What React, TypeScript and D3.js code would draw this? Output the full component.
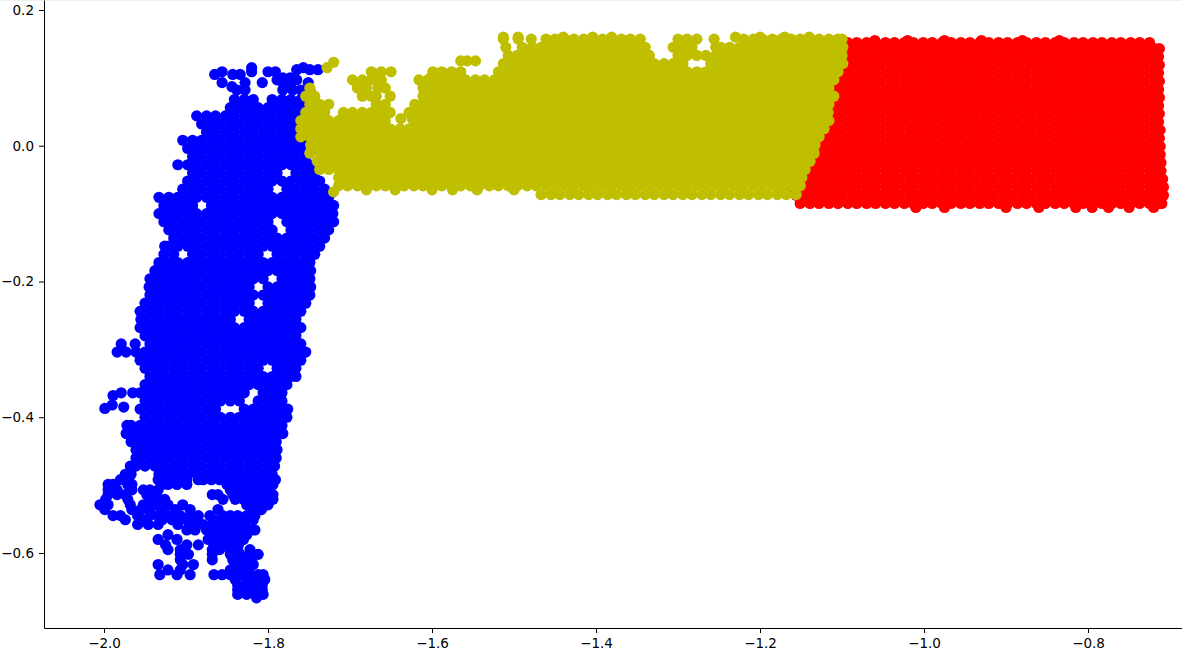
import { useEffect, useRef } from 'react';
import * as d3 from 'd3';

const width = 1182;
const height = 656;

const xTicks = [-2.0, -1.8, -1.6, -1.4, -1.2, -1.0, -0.8];
const yTicks = [0.2, 0.0, -0.2, -0.4, -0.6];

const blueColor = '#0000ff';
const yellowColor = '#bfbf00';
const redColor = '#ff0000';

// Each row is [y, x, x, x, ...]. Inside the
// solid areas single points can't be told apart, so those rows are even cover
// estimates, while the outlines, strays and gaps follow what is visible.
const blueRows: number[][] = [
  [0.115, -1.820, -1.757],
  [0.112, -1.765, -1.749, -1.739],
  [0.109, -1.856, -1.820, -1.800, -1.791],
  [0.105, -1.865, -1.843, -1.834],
  [0.100, -1.773, -1.782],
  [0.097, -1.789, -1.765],
  [0.093, -1.856, -1.828, -1.807, -1.782, -1.751],
  [0.087, -1.844, -1.773],
  [0.082, -1.749, -1.838, -1.828, -1.782, -1.770, -1.760],
  [0.068, -1.841, -1.829, -1.818, -1.795, -1.783, -1.772, -1.760],
  [0.056, -1.846, -1.835, -1.823, -1.812, -1.800, -1.789, -1.777, -1.766, -1.754],
  [0.044, -1.887, -1.875, -1.864, -1.852, -1.841, -1.829, -1.818, -1.806, -1.795, -1.783, -1.772, -1.760],
  [0.032, -1.881, -1.869, -1.858, -1.846, -1.835, -1.823, -1.812, -1.800, -1.789, -1.777, -1.766, -1.754],
  [0.020, -1.875, -1.864, -1.852, -1.841, -1.829, -1.818, -1.806, -1.795, -1.783, -1.772, -1.760],
  [0.008, -1.904, -1.892, -1.881, -1.869, -1.858, -1.846, -1.835, -1.823, -1.812, -1.800, -1.789, -1.777, -1.766, -1.754],
  [-0.004, -1.898, -1.887, -1.875, -1.864, -1.852, -1.841, -1.829, -1.818, -1.806, -1.795, -1.783, -1.772, -1.760],
  [-0.016, -1.892, -1.881, -1.869, -1.858, -1.846, -1.835, -1.823, -1.812, -1.800, -1.789, -1.777, -1.766, -1.754],
  [-0.028, -1.910, -1.898, -1.887, -1.875, -1.864, -1.852, -1.841, -1.829, -1.818, -1.806, -1.795, -1.783, -1.772, -1.760, -1.749],
  [-0.040, -1.892, -1.881, -1.869, -1.858, -1.846, -1.835, -1.823, -1.812, -1.800, -1.789, -1.766, -1.754, -1.743],
  [-0.052, -1.898, -1.887, -1.875, -1.864, -1.852, -1.841, -1.829, -1.818, -1.806, -1.795, -1.783, -1.772, -1.760, -1.749, -1.737],
  [-0.064, -1.904, -1.892, -1.881, -1.869, -1.858, -1.846, -1.835, -1.823, -1.812, -1.800, -1.777, -1.766, -1.754, -1.743, -1.731],
  [-0.076, -1.933, -1.921, -1.910, -1.898, -1.887, -1.875, -1.864, -1.852, -1.841, -1.829, -1.818, -1.806, -1.795, -1.783, -1.772, -1.760, -1.749, -1.737, -1.726],
  [-0.088, -1.927, -1.915, -1.904, -1.892, -1.869, -1.858, -1.846, -1.835, -1.823, -1.812, -1.800, -1.789, -1.777, -1.766, -1.754, -1.743, -1.731, -1.720],
  [-0.100, -1.933, -1.921, -1.910, -1.898, -1.887, -1.875, -1.864, -1.852, -1.841, -1.829, -1.818, -1.806, -1.795, -1.783, -1.772, -1.760, -1.749, -1.737, -1.726, -1.721],
  [-0.112, -1.927, -1.915, -1.904, -1.892, -1.881, -1.869, -1.858, -1.846, -1.835, -1.823, -1.812, -1.800, -1.777, -1.766, -1.754, -1.743, -1.731, -1.720],
  [-0.124, -1.921, -1.910, -1.898, -1.887, -1.875, -1.864, -1.852, -1.841, -1.829, -1.818, -1.806, -1.795, -1.772, -1.760, -1.749, -1.737, -1.726],
  [-0.136, -1.915, -1.904, -1.892, -1.881, -1.869, -1.858, -1.846, -1.835, -1.823, -1.812, -1.800, -1.789, -1.777, -1.766, -1.754, -1.743, -1.731],
  [-0.148, -1.926, -1.921, -1.910, -1.898, -1.887, -1.875, -1.864, -1.852, -1.841, -1.829, -1.818, -1.806, -1.795, -1.783, -1.772, -1.760, -1.749, -1.737],
  [-0.160, -1.927, -1.915, -1.892, -1.881, -1.869, -1.858, -1.846, -1.835, -1.823, -1.812, -1.789, -1.777, -1.766, -1.754, -1.743],
  [-0.172, -1.933, -1.921, -1.910, -1.898, -1.887, -1.875, -1.864, -1.852, -1.841, -1.829, -1.818, -1.806, -1.795, -1.783, -1.772, -1.760, -1.749],
  [-0.184, -1.938, -1.927, -1.915, -1.904, -1.892, -1.881, -1.869, -1.858, -1.846, -1.835, -1.823, -1.812, -1.800, -1.789, -1.777, -1.766, -1.754, -1.748],
  [-0.196, -1.944, -1.933, -1.921, -1.910, -1.898, -1.887, -1.875, -1.864, -1.852, -1.841, -1.829, -1.818, -1.806, -1.783, -1.772, -1.760, -1.749],
  [-0.208, -1.945, -1.938, -1.927, -1.915, -1.904, -1.892, -1.881, -1.869, -1.858, -1.846, -1.835, -1.823, -1.800, -1.789, -1.777, -1.766, -1.754, -1.748],
  [-0.220, -1.944, -1.933, -1.921, -1.910, -1.898, -1.887, -1.875, -1.864, -1.852, -1.841, -1.829, -1.818, -1.806, -1.795, -1.783, -1.772, -1.760, -1.749],
  [-0.232, -1.950, -1.938, -1.927, -1.915, -1.904, -1.892, -1.881, -1.869, -1.858, -1.846, -1.835, -1.823, -1.800, -1.789, -1.777, -1.766, -1.754],
  [-0.244, -1.956, -1.944, -1.933, -1.921, -1.910, -1.898, -1.887, -1.875, -1.864, -1.852, -1.841, -1.829, -1.818, -1.806, -1.795, -1.783, -1.772, -1.760],
  [-0.256, -1.955, -1.950, -1.938, -1.927, -1.915, -1.904, -1.892, -1.881, -1.869, -1.858, -1.846, -1.823, -1.812, -1.800, -1.789, -1.777, -1.766],
  [-0.268, -1.956, -1.944, -1.933, -1.921, -1.910, -1.898, -1.887, -1.875, -1.864, -1.852, -1.841, -1.829, -1.818, -1.806, -1.795, -1.783, -1.772, -1.760],
  [-0.280, -1.950, -1.938, -1.927, -1.915, -1.904, -1.892, -1.881, -1.869, -1.858, -1.846, -1.835, -1.823, -1.812, -1.800, -1.789, -1.777, -1.766],
  [-0.292, -1.979, -1.962, -1.944, -1.933, -1.921, -1.910, -1.898, -1.887, -1.875, -1.864, -1.852, -1.841, -1.829, -1.818, -1.806, -1.795, -1.783, -1.772, -1.760],
  [-0.304, -1.984, -1.973, -1.961, -1.950, -1.938, -1.927, -1.915, -1.904, -1.892, -1.881, -1.869, -1.858, -1.846, -1.835, -1.823, -1.812, -1.800, -1.789, -1.777, -1.766, -1.754],
  [-0.316, -1.956, -1.944, -1.933, -1.921, -1.910, -1.898, -1.887, -1.875, -1.864, -1.852, -1.841, -1.829, -1.818, -1.806, -1.795, -1.783, -1.772, -1.760],
  [-0.328, -1.950, -1.938, -1.927, -1.915, -1.904, -1.892, -1.881, -1.869, -1.858, -1.846, -1.835, -1.823, -1.812, -1.789, -1.777, -1.766],
  [-0.340, -1.944, -1.933, -1.921, -1.910, -1.898, -1.887, -1.875, -1.864, -1.852, -1.841, -1.829, -1.818, -1.806, -1.795, -1.783, -1.772, -1.766],
  [-0.352, -1.950, -1.938, -1.927, -1.915, -1.904, -1.892, -1.881, -1.869, -1.858, -1.846, -1.835, -1.823, -1.812, -1.800, -1.789, -1.777],
  [-0.364, -1.956, -1.944, -1.933, -1.921, -1.910, -1.898, -1.887, -1.875, -1.864, -1.852, -1.841, -1.829, -1.806, -1.795, -1.783],
  [-0.376, -1.950, -1.938, -1.927, -1.915, -1.904, -1.892, -1.881, -1.869, -1.858, -1.846, -1.835, -1.812, -1.800, -1.789, -1.783],
  [-0.388, -1.956, -1.944, -1.933, -1.921, -1.910, -1.898, -1.887, -1.875, -1.864, -1.829, -1.818, -1.806, -1.795, -1.783, -1.776],
  [-0.400, -1.950, -1.938, -1.927, -1.915, -1.904, -1.892, -1.881, -1.869, -1.858, -1.846, -1.835, -1.823, -1.812, -1.800, -1.789, -1.777],
  [-0.412, -1.972, -1.967, -1.956, -1.944, -1.933, -1.921, -1.910, -1.898, -1.887, -1.875, -1.864, -1.852, -1.841, -1.829, -1.818, -1.806, -1.795, -1.783],
  [-0.424, -1.973, -1.961, -1.950, -1.938, -1.927, -1.915, -1.904, -1.892, -1.881, -1.869, -1.858, -1.846, -1.835, -1.823, -1.812, -1.800, -1.789, -1.782],
  [-0.436, -1.967, -1.956, -1.944, -1.933, -1.921, -1.910, -1.898, -1.887, -1.875, -1.864, -1.852, -1.841, -1.829, -1.818, -1.806, -1.795, -1.790],
  [-0.448, -1.961, -1.950, -1.938, -1.927, -1.915, -1.904, -1.892, -1.881, -1.869, -1.858, -1.846, -1.835, -1.823, -1.812, -1.800, -1.789],
  [-0.460, -1.961, -1.956, -1.944, -1.933, -1.921, -1.910, -1.898, -1.887, -1.875, -1.864, -1.852, -1.841, -1.829, -1.818, -1.806, -1.795, -1.790],
  [-0.472, -1.968, -1.961, -1.950, -1.938, -1.927, -1.915, -1.904, -1.892, -1.881, -1.869, -1.858, -1.846, -1.835, -1.823, -1.812, -1.800, -1.792],
  [-0.484, -1.974, -1.967, -1.933, -1.921, -1.910, -1.898, -1.887, -1.875, -1.864, -1.852, -1.841, -1.829, -1.818, -1.806, -1.795],
  [-0.492, -1.980, -1.971, -1.934, -1.922, -1.911, -1.899, -1.885, -1.879, -1.869, -1.859, -1.850, -1.840, -1.830, -1.820, -1.810, -1.800, -1.791],
  [-0.499, -1.995, -1.989, -1.971, -1.966, -1.929, -1.922, -1.911, -1.899, -1.850, -1.843, -1.834, -1.824, -1.813, -1.803, -1.794],
  [-0.507, -1.995, -1.984, -1.966, -1.952, -1.944, -1.934, -1.846, -1.837, -1.828, -1.818, -1.808, -1.798],
  [-0.514, -1.995, -1.984, -1.974, -1.948, -1.938, -1.868, -1.861, -1.843, -1.834, -1.824, -1.813, -1.803, -1.794],
  [-0.521, -1.998, -1.971, -1.944, -1.932, -1.926, -1.855, -1.840, -1.830, -1.820, -1.810, -1.800, -1.794],
  [-0.529, -2.005, -1.995, -1.968, -1.952, -1.939, -1.922, -1.904, -1.826, -1.816, -1.806, -1.800],
  [-0.536, -1.999, -1.966, -1.955, -1.944, -1.930, -1.913, -1.895, -1.861, -1.818, -1.808],
  [-0.545, -1.989, -1.980, -1.959, -1.944, -1.934, -1.922, -1.907, -1.895, -1.885, -1.871, -1.855, -1.846, -1.837, -1.826, -1.816],
  [-0.551, -1.974, -1.952, -1.929, -1.917, -1.913, -1.899, -1.889, -1.866, -1.856, -1.846, -1.836, -1.826, -1.818],
  [-0.558, -1.959, -1.946, -1.934, -1.910, -1.895, -1.879, -1.868, -1.859, -1.849, -1.839, -1.829],
  [-0.566, -1.899, -1.889, -1.875, -1.860, -1.848, -1.838, -1.829, -1.820, -1.816],
  [-0.573, -1.922, -1.866, -1.855, -1.845, -1.835, -1.826],
  [-0.580, -1.934, -1.911, -1.873, -1.862, -1.850, -1.840, -1.830],
  [-0.588, -1.925, -1.899, -1.885, -1.866, -1.855, -1.845, -1.836],
  [-0.595, -1.922, -1.907, -1.868, -1.859, -1.846, -1.837, -1.822],
  [-0.602, -1.907, -1.897, -1.868, -1.846, -1.834, -1.822, -1.812],
  [-0.610, -1.907, -1.868, -1.843, -1.832, -1.820],
  [-0.617, -1.934, -1.904, -1.891, -1.839, -1.826, -1.818],
  [-0.625, -1.922, -1.907, -1.846, -1.834, -1.824],
  [-0.632, -1.932, -1.911, -1.895, -1.866, -1.856, -1.846, -1.834, -1.822, -1.812, -1.806],
  [-0.639, -1.840, -1.826, -1.816, -1.804],
  [-0.647, -1.837, -1.824, -1.812, -1.807],
  [-0.654, -1.837, -1.826, -1.816, -1.807],
  [-0.661, -1.837, -1.826, -1.814, -1.806],
  [-0.666, -1.814],
  // stray points left of the main mass
  [-0.364, -1.979, -1.965],
  [-0.368, -1.989],
  [-0.382, -1.990],
  [-0.387, -1.999],
  [-0.385, -1.976],
];

const redRows: number[][] = [
  [0.155, -1.060, -1.020, -0.975, -0.930, -0.880, -0.835],
  [0.152, -1.105, -1.093, -1.082, -1.070, -1.059, -1.047, -1.036, -1.024, -1.013, -1.001, -0.990, -0.978, -0.967, -0.955, -0.944, -0.932, -0.921, -0.909, -0.898, -0.886, -0.875, -0.863, -0.852, -0.840, -0.829, -0.817, -0.806, -0.794, -0.783, -0.771, -0.760, -0.748, -0.737, -0.725],
  [0.143, -1.099, -1.087, -1.076, -1.064, -1.053, -1.041, -1.030, -1.018, -1.007, -0.995, -0.984, -0.972, -0.961, -0.949, -0.938, -0.926, -0.915, -0.903, -0.892, -0.880, -0.869, -0.857, -0.846, -0.834, -0.823, -0.811, -0.800, -0.788, -0.777, -0.765, -0.754, -0.742, -0.731, -0.719, -0.713],
  [0.131, -1.105, -1.093, -1.082, -1.070, -1.059, -1.047, -1.036, -1.024, -1.013, -1.001, -0.990, -0.978, -0.967, -0.955, -0.944, -0.932, -0.921, -0.909, -0.898, -0.886, -0.875, -0.863, -0.852, -0.840, -0.829, -0.817, -0.806, -0.794, -0.783, -0.771, -0.760, -0.748, -0.737, -0.725, -0.714],
  [0.119, -1.099, -1.087, -1.076, -1.064, -1.053, -1.041, -1.030, -1.018, -1.007, -0.995, -0.984, -0.972, -0.961, -0.949, -0.938, -0.926, -0.915, -0.903, -0.892, -0.880, -0.869, -0.857, -0.846, -0.834, -0.823, -0.811, -0.800, -0.788, -0.777, -0.765, -0.754, -0.742, -0.731, -0.719, -0.713],
  [0.107, -1.105, -1.093, -1.082, -1.070, -1.059, -1.047, -1.036, -1.024, -1.013, -1.001, -0.990, -0.978, -0.967, -0.955, -0.944, -0.932, -0.921, -0.909, -0.898, -0.886, -0.875, -0.863, -0.852, -0.840, -0.829, -0.817, -0.806, -0.794, -0.783, -0.771, -0.760, -0.748, -0.737, -0.725, -0.714],
  [0.095, -1.110, -1.099, -1.087, -1.076, -1.064, -1.053, -1.041, -1.030, -1.018, -1.007, -0.995, -0.984, -0.972, -0.961, -0.949, -0.938, -0.926, -0.915, -0.903, -0.892, -0.880, -0.869, -0.857, -0.846, -0.834, -0.823, -0.811, -0.800, -0.788, -0.777, -0.765, -0.754, -0.742, -0.731, -0.719, -0.713],
  [0.083, -1.116, -1.105, -1.093, -1.082, -1.070, -1.059, -1.047, -1.036, -1.024, -1.013, -1.001, -0.990, -0.978, -0.967, -0.955, -0.944, -0.932, -0.921, -0.909, -0.898, -0.886, -0.875, -0.863, -0.852, -0.840, -0.829, -0.817, -0.806, -0.794, -0.783, -0.771, -0.760, -0.748, -0.737, -0.725, -0.714],
  [0.071, -1.110, -1.099, -1.087, -1.076, -1.064, -1.053, -1.041, -1.030, -1.018, -1.007, -0.995, -0.984, -0.972, -0.961, -0.949, -0.938, -0.926, -0.915, -0.903, -0.892, -0.880, -0.869, -0.857, -0.846, -0.834, -0.823, -0.811, -0.800, -0.788, -0.777, -0.765, -0.754, -0.742, -0.731, -0.719, -0.713],
  [0.059, -1.116, -1.105, -1.093, -1.082, -1.070, -1.059, -1.047, -1.036, -1.024, -1.013, -1.001, -0.990, -0.978, -0.967, -0.955, -0.944, -0.932, -0.921, -0.909, -0.898, -0.886, -0.875, -0.863, -0.852, -0.840, -0.829, -0.817, -0.806, -0.794, -0.783, -0.771, -0.760, -0.748, -0.737, -0.725, -0.714],
  [0.047, -1.122, -1.110, -1.099, -1.087, -1.076, -1.064, -1.053, -1.041, -1.030, -1.018, -1.007, -0.995, -0.984, -0.972, -0.961, -0.949, -0.938, -0.926, -0.915, -0.903, -0.892, -0.880, -0.869, -0.857, -0.846, -0.834, -0.823, -0.811, -0.800, -0.788, -0.777, -0.765, -0.754, -0.742, -0.731, -0.719, -0.713],
  [0.035, -1.116, -1.105, -1.093, -1.082, -1.070, -1.059, -1.047, -1.036, -1.024, -1.013, -1.001, -0.990, -0.978, -0.967, -0.955, -0.944, -0.932, -0.921, -0.909, -0.898, -0.886, -0.875, -0.863, -0.852, -0.840, -0.829, -0.817, -0.806, -0.794, -0.783, -0.771, -0.760, -0.748, -0.737, -0.725, -0.714],
  [0.023, -1.122, -1.110, -1.099, -1.087, -1.076, -1.064, -1.053, -1.041, -1.030, -1.018, -1.007, -0.995, -0.984, -0.972, -0.961, -0.949, -0.938, -0.926, -0.915, -0.903, -0.892, -0.880, -0.869, -0.857, -0.846, -0.834, -0.823, -0.811, -0.800, -0.788, -0.777, -0.765, -0.754, -0.742, -0.731, -0.719, -0.712],
  [0.011, -1.128, -1.116, -1.105, -1.093, -1.082, -1.070, -1.059, -1.047, -1.036, -1.024, -1.013, -1.001, -0.990, -0.978, -0.967, -0.955, -0.944, -0.932, -0.921, -0.909, -0.898, -0.886, -0.875, -0.863, -0.852, -0.840, -0.829, -0.817, -0.806, -0.794, -0.783, -0.771, -0.760, -0.748, -0.737, -0.725, -0.718, -0.713],
  [-0.001, -1.133, -1.122, -1.110, -1.099, -1.087, -1.076, -1.064, -1.053, -1.041, -1.030, -1.018, -1.007, -0.995, -0.984, -0.972, -0.961, -0.949, -0.938, -0.926, -0.915, -0.903, -0.892, -0.880, -0.869, -0.857, -0.846, -0.834, -0.823, -0.811, -0.800, -0.788, -0.777, -0.765, -0.754, -0.742, -0.731, -0.719, -0.712],
  [-0.013, -1.139, -1.128, -1.116, -1.105, -1.093, -1.082, -1.070, -1.059, -1.047, -1.036, -1.024, -1.013, -1.001, -0.990, -0.978, -0.967, -0.955, -0.944, -0.932, -0.921, -0.909, -0.898, -0.886, -0.875, -0.863, -0.852, -0.840, -0.829, -0.817, -0.806, -0.794, -0.783, -0.771, -0.760, -0.748, -0.737, -0.725, -0.718, -0.712],
  [-0.025, -1.145, -1.133, -1.122, -1.110, -1.099, -1.087, -1.076, -1.064, -1.053, -1.041, -1.030, -1.018, -1.007, -0.995, -0.984, -0.972, -0.961, -0.949, -0.938, -0.926, -0.915, -0.903, -0.892, -0.880, -0.869, -0.857, -0.846, -0.834, -0.823, -0.811, -0.800, -0.788, -0.777, -0.765, -0.754, -0.742, -0.731, -0.719, -0.711],
  [-0.037, -1.151, -1.139, -1.128, -1.116, -1.105, -1.093, -1.082, -1.070, -1.059, -1.047, -1.036, -1.024, -1.013, -1.001, -0.990, -0.978, -0.967, -0.955, -0.944, -0.932, -0.921, -0.909, -0.898, -0.886, -0.875, -0.863, -0.852, -0.840, -0.829, -0.817, -0.806, -0.794, -0.783, -0.771, -0.760, -0.748, -0.737, -0.725, -0.718, -0.711],
  [-0.049, -1.156, -1.145, -1.133, -1.122, -1.110, -1.099, -1.087, -1.076, -1.064, -1.053, -1.041, -1.030, -1.018, -1.007, -0.995, -0.984, -0.972, -0.961, -0.949, -0.938, -0.926, -0.915, -0.903, -0.892, -0.880, -0.869, -0.857, -0.846, -0.834, -0.823, -0.811, -0.800, -0.788, -0.777, -0.765, -0.754, -0.742, -0.731, -0.719, -0.709],
  [-0.061, -1.162, -1.151, -1.139, -1.128, -1.116, -1.105, -1.093, -1.082, -1.070, -1.059, -1.047, -1.036, -1.024, -1.013, -1.001, -0.990, -0.978, -0.967, -0.955, -0.944, -0.932, -0.921, -0.909, -0.898, -0.886, -0.875, -0.863, -0.852, -0.840, -0.829, -0.817, -0.806, -0.794, -0.783, -0.771, -0.760, -0.748, -0.737, -0.725, -0.714, -0.708],
  [-0.073, -1.156, -1.145, -1.133, -1.122, -1.110, -1.099, -1.087, -1.076, -1.064, -1.053, -1.041, -1.030, -1.018, -1.007, -0.995, -0.984, -0.972, -0.961, -0.949, -0.938, -0.926, -0.915, -0.903, -0.892, -0.880, -0.869, -0.857, -0.846, -0.834, -0.823, -0.811, -0.800, -0.788, -0.777, -0.765, -0.754, -0.742, -0.731, -0.719, -0.708],
  [-0.085, -1.151, -1.139, -1.128, -1.116, -1.105, -1.093, -1.082, -1.070, -1.059, -1.047, -1.036, -1.024, -1.013, -1.001, -0.990, -0.978, -0.967, -0.955, -0.944, -0.932, -0.921, -0.909, -0.898, -0.886, -0.875, -0.863, -0.852, -0.840, -0.829, -0.817, -0.806, -0.794, -0.783, -0.771, -0.760, -0.748, -0.737, -0.725, -0.714, -0.710],
  [-0.091, -1.010, -0.975, -0.900, -0.860, -0.815, -0.795, -0.775, -0.750, -0.720],
];

const yellowRows: number[][] = [
  [0.160, -1.513, -1.495, -1.440, -1.404, -1.381, -1.230, -1.200, -1.170, -1.140],
  [0.157, -1.513, -1.495, -1.479, -1.461, -1.450, -1.438, -1.427, -1.415, -1.404, -1.392, -1.381, -1.369, -1.358, -1.346, -1.300, -1.289, -1.277, -1.256, -1.220, -1.208, -1.197, -1.185, -1.174, -1.162, -1.151, -1.139, -1.128, -1.116, -1.105, -1.100],
  [0.145, -1.510, -1.490, -1.478, -1.467, -1.455, -1.444, -1.432, -1.421, -1.409, -1.398, -1.386, -1.375, -1.363, -1.352, -1.340, -1.306, -1.294, -1.283, -1.254, -1.248, -1.237, -1.225, -1.214, -1.202, -1.191, -1.179, -1.168, -1.156, -1.145, -1.133, -1.122, -1.110, -1.099],
  [0.133, -1.507, -1.496, -1.484, -1.473, -1.461, -1.450, -1.438, -1.427, -1.415, -1.404, -1.392, -1.381, -1.369, -1.358, -1.346, -1.335, -1.300, -1.289, -1.277, -1.266, -1.254, -1.243, -1.231, -1.220, -1.208, -1.197, -1.185, -1.174, -1.162, -1.151, -1.139, -1.128, -1.116, -1.105, -1.100],
  [0.121, -1.513, -1.501, -1.490, -1.478, -1.467, -1.455, -1.444, -1.432, -1.421, -1.409, -1.398, -1.386, -1.375, -1.363, -1.352, -1.340, -1.329, -1.317, -1.306, -1.294, -1.260, -1.248, -1.237, -1.225, -1.214, -1.202, -1.191, -1.179, -1.168, -1.156, -1.145, -1.133, -1.122, -1.110, -1.099],
  [0.109, -1.674, -1.662, -1.650, -1.599, -1.588, -1.576, -1.565, -1.519, -1.507, -1.496, -1.484, -1.473, -1.461, -1.450, -1.438, -1.427, -1.415, -1.404, -1.392, -1.381, -1.369, -1.358, -1.346, -1.335, -1.323, -1.312, -1.300, -1.289, -1.277, -1.266, -1.254, -1.243, -1.231, -1.220, -1.208, -1.197, -1.185, -1.174, -1.162, -1.151, -1.139, -1.128, -1.116, -1.105],
  [0.100, -1.668, -1.602, -1.594],
  [0.097, -1.697, -1.685, -1.674, -1.662, -1.616, -1.605, -1.593, -1.582, -1.570, -1.559, -1.547, -1.536, -1.524, -1.513, -1.501, -1.490, -1.478, -1.467, -1.455, -1.444, -1.432, -1.421, -1.409, -1.398, -1.386, -1.375, -1.363, -1.352, -1.340, -1.329, -1.317, -1.306, -1.294, -1.283, -1.271, -1.260, -1.248, -1.237, -1.225, -1.214, -1.202, -1.191, -1.179, -1.168, -1.156, -1.145, -1.133, -1.122, -1.110],
  [0.085, -1.749, -1.691, -1.680, -1.666, -1.657, -1.611, -1.600, -1.588, -1.576, -1.565, -1.553, -1.542, -1.530, -1.519, -1.507, -1.496, -1.484, -1.473, -1.461, -1.450, -1.438, -1.427, -1.415, -1.404, -1.392, -1.381, -1.369, -1.358, -1.346, -1.335, -1.323, -1.312, -1.300, -1.289, -1.277, -1.266, -1.254, -1.243, -1.231, -1.220, -1.208, -1.197, -1.185, -1.174, -1.162, -1.151, -1.139, -1.128, -1.116],
  [0.073, -1.754, -1.743, -1.685, -1.674, -1.668, -1.651, -1.611, -1.605, -1.593, -1.582, -1.570, -1.559, -1.547, -1.536, -1.524, -1.513, -1.501, -1.490, -1.478, -1.467, -1.455, -1.444, -1.432, -1.421, -1.409, -1.398, -1.386, -1.375, -1.363, -1.352, -1.340, -1.329, -1.317, -1.306, -1.294, -1.283, -1.271, -1.260, -1.248, -1.237, -1.225, -1.214, -1.202, -1.191, -1.179, -1.168, -1.156, -1.145, -1.133, -1.122, -1.110],
  [0.061, -1.749, -1.737, -1.726, -1.668, -1.657, -1.621, -1.611, -1.599, -1.588, -1.576, -1.565, -1.553, -1.542, -1.530, -1.519, -1.507, -1.496, -1.484, -1.473, -1.461, -1.450, -1.438, -1.427, -1.415, -1.404, -1.392, -1.381, -1.369, -1.358, -1.346, -1.335, -1.323, -1.312, -1.300, -1.289, -1.277, -1.266, -1.254, -1.243, -1.231, -1.220, -1.208, -1.197, -1.185, -1.174, -1.162, -1.151, -1.139, -1.128, -1.116],
  [0.049, -1.754, -1.743, -1.731, -1.708, -1.697, -1.685, -1.674, -1.662, -1.651, -1.628, -1.616, -1.605, -1.593, -1.582, -1.570, -1.559, -1.547, -1.536, -1.524, -1.513, -1.501, -1.490, -1.478, -1.467, -1.455, -1.444, -1.432, -1.421, -1.409, -1.398, -1.386, -1.375, -1.363, -1.352, -1.340, -1.329, -1.317, -1.306, -1.294, -1.283, -1.271, -1.260, -1.248, -1.237, -1.225, -1.214, -1.202, -1.191, -1.179, -1.168, -1.156, -1.145, -1.133, -1.122, -1.117],
  [0.037, -1.760, -1.749, -1.737, -1.726, -1.714, -1.703, -1.691, -1.680, -1.668, -1.657, -1.622, -1.611, -1.599, -1.588, -1.576, -1.565, -1.553, -1.542, -1.530, -1.519, -1.507, -1.496, -1.484, -1.473, -1.461, -1.450, -1.438, -1.427, -1.415, -1.404, -1.392, -1.381, -1.369, -1.358, -1.346, -1.335, -1.323, -1.312, -1.300, -1.289, -1.277, -1.266, -1.254, -1.243, -1.231, -1.220, -1.208, -1.197, -1.185, -1.174, -1.162, -1.151, -1.139, -1.128, -1.116],
  [0.025, -1.760, -1.754, -1.743, -1.731, -1.720, -1.708, -1.697, -1.685, -1.674, -1.662, -1.651, -1.639, -1.628, -1.616, -1.605, -1.593, -1.582, -1.570, -1.559, -1.547, -1.536, -1.524, -1.513, -1.501, -1.490, -1.478, -1.467, -1.455, -1.444, -1.432, -1.421, -1.409, -1.398, -1.386, -1.375, -1.363, -1.352, -1.340, -1.329, -1.317, -1.306, -1.294, -1.283, -1.271, -1.260, -1.248, -1.237, -1.225, -1.214, -1.202, -1.191, -1.179, -1.168, -1.156, -1.145, -1.133, -1.122],
  [0.013, -1.760, -1.749, -1.737, -1.726, -1.714, -1.703, -1.691, -1.680, -1.668, -1.657, -1.645, -1.634, -1.622, -1.611, -1.599, -1.588, -1.576, -1.565, -1.553, -1.542, -1.530, -1.519, -1.507, -1.496, -1.484, -1.473, -1.461, -1.450, -1.438, -1.427, -1.415, -1.404, -1.392, -1.381, -1.369, -1.358, -1.346, -1.335, -1.323, -1.312, -1.300, -1.289, -1.277, -1.266, -1.254, -1.243, -1.231, -1.220, -1.208, -1.197, -1.185, -1.174, -1.162, -1.151, -1.139, -1.128],
  [0.001, -1.748, -1.743, -1.731, -1.720, -1.708, -1.697, -1.685, -1.674, -1.662, -1.651, -1.639, -1.628, -1.616, -1.605, -1.593, -1.582, -1.570, -1.559, -1.547, -1.536, -1.524, -1.513, -1.501, -1.490, -1.478, -1.467, -1.455, -1.444, -1.432, -1.421, -1.409, -1.398, -1.386, -1.375, -1.363, -1.352, -1.340, -1.329, -1.317, -1.306, -1.294, -1.283, -1.271, -1.260, -1.248, -1.237, -1.225, -1.214, -1.202, -1.191, -1.179, -1.168, -1.156, -1.145, -1.133],
  [-0.011, -1.749, -1.737, -1.726, -1.714, -1.703, -1.691, -1.680, -1.668, -1.657, -1.645, -1.634, -1.622, -1.611, -1.599, -1.588, -1.576, -1.565, -1.553, -1.542, -1.530, -1.519, -1.507, -1.496, -1.484, -1.473, -1.461, -1.450, -1.438, -1.427, -1.415, -1.404, -1.392, -1.381, -1.369, -1.358, -1.346, -1.335, -1.323, -1.312, -1.300, -1.289, -1.277, -1.266, -1.254, -1.243, -1.231, -1.220, -1.208, -1.197, -1.185, -1.174, -1.162, -1.151, -1.139, -1.134],
  [-0.023, -1.740, -1.731, -1.720, -1.708, -1.697, -1.685, -1.674, -1.662, -1.651, -1.639, -1.628, -1.616, -1.605, -1.593, -1.582, -1.570, -1.559, -1.547, -1.536, -1.524, -1.513, -1.501, -1.490, -1.478, -1.467, -1.455, -1.444, -1.432, -1.421, -1.409, -1.398, -1.386, -1.375, -1.363, -1.352, -1.340, -1.329, -1.317, -1.306, -1.294, -1.283, -1.271, -1.260, -1.248, -1.237, -1.225, -1.214, -1.202, -1.191, -1.179, -1.168, -1.156, -1.145, -1.139],
  [-0.035, -1.737, -1.726, -1.714, -1.703, -1.691, -1.680, -1.668, -1.657, -1.645, -1.634, -1.622, -1.611, -1.599, -1.588, -1.576, -1.565, -1.553, -1.542, -1.530, -1.519, -1.507, -1.496, -1.484, -1.473, -1.461, -1.450, -1.438, -1.427, -1.415, -1.404, -1.392, -1.381, -1.369, -1.358, -1.346, -1.335, -1.323, -1.312, -1.300, -1.289, -1.277, -1.266, -1.254, -1.243, -1.231, -1.220, -1.208, -1.197, -1.185, -1.174, -1.162, -1.151, -1.145],
  [-0.047, -1.714, -1.708, -1.697, -1.685, -1.674, -1.662, -1.651, -1.639, -1.628, -1.616, -1.605, -1.593, -1.582, -1.570, -1.559, -1.547, -1.536, -1.524, -1.513, -1.501, -1.490, -1.478, -1.467, -1.455, -1.444, -1.432, -1.421, -1.409, -1.398, -1.386, -1.375, -1.363, -1.352, -1.340, -1.329, -1.317, -1.306, -1.294, -1.283, -1.271, -1.260, -1.248, -1.237, -1.225, -1.214, -1.202, -1.191, -1.179, -1.168, -1.156, -1.149],
  [-0.059, -1.714, -1.703, -1.691, -1.680, -1.668, -1.657, -1.645, -1.634, -1.622, -1.611, -1.599, -1.588, -1.576, -1.565, -1.553, -1.542, -1.530, -1.519, -1.507, -1.496, -1.484, -1.473, -1.461, -1.450, -1.438, -1.427, -1.415, -1.404, -1.392, -1.381, -1.369, -1.358, -1.346, -1.335, -1.323, -1.312, -1.300, -1.289, -1.277, -1.266, -1.254, -1.243, -1.231, -1.220, -1.208, -1.197, -1.185, -1.174, -1.162, -1.151],
  [-0.065, -1.680, -1.645, -1.600, -1.575, -1.545, -1.500],
  [-0.072, -1.467, -1.455, -1.444, -1.432, -1.421, -1.409, -1.398, -1.386, -1.375, -1.363, -1.352, -1.340, -1.329, -1.317, -1.306, -1.294, -1.283, -1.271, -1.260, -1.248, -1.237, -1.225, -1.214, -1.202, -1.191, -1.179, -1.168, -1.156],
  // isolated points above the main band
  [0.125, -1.565, -1.557, -1.547],
  [0.123, -1.720],
  [0.115, -1.728],
  [0.096, -1.662],
  [0.040, -1.624, -1.638],
  [-0.068, -1.720],
];

const toPoints = (rows: number[][]) =>
  rows.flatMap(([y, ...xs]) => xs.map(x => ({ x, y })));

const layers = [
  { color: blueColor, points: toPoints(blueRows) },
  { color: redColor, points: toPoints(redRows) },
  { color: yellowColor, points: toPoints(yellowRows) },
];

export default function App() {
  const svgRef = useRef<SVGSVGElement | null>(null);

  useEffect(() => {
    if (!svgRef.current) return;

    const svg = d3.select(svgRef.current);
    svg.selectAll('*').remove();

    const xScale = d3.scaleLinear().domain([-2.0732, -0.6854]).range([44, 1182]);
    const yScale = d3.scaleLinear().domain([-0.7105, 0.2147]).range([628, 0]);

    svg.append('rect')
      .attr('width', width)
      .attr('height', 1)
      .attr('fill', '#eeeeee');

    layers.forEach(layer => {
      svg.append('g')
        .selectAll('circle')
        .data(layer.points)
        .enter().append('circle')
        .attr('cx', d => xScale(d.x))
        .attr('cy', d => yScale(d.y))
        .attr('r', 5.6)
        .attr('fill', layer.color);
    });

    const xAxis = svg.append('g')
      .attr('transform', 'translate(0,628)')
      .call(d3.axisBottom(xScale).tickValues(xTicks).tickFormat(d3.format('.1f') as any).tickSize(5).tickSizeOuter(0).tickPadding(5));

    const yAxis = svg.append('g')
      .attr('transform', 'translate(44,0)')
      .call(d3.axisLeft(yScale).tickValues(yTicks).tickFormat(d3.format('.1f') as any).tickSize(5).tickSizeOuter(0).tickPadding(5));

    [xAxis, yAxis].forEach(axis => {
      axis.selectAll('text')
        .style('font-family', '"DejaVu Sans"')
        .style('font-size', '13.5px')
        .style('fill', '#000');
      axis.selectAll('path, line').attr('stroke', '#000');
    });
  }, []);

  return (
    <svg
      ref={svgRef}
      width={width}
      height={height}
      style={{ position: 'fixed', left: 0, top: 0, display: 'block', background: '#fff' }}
    />
  );
}
